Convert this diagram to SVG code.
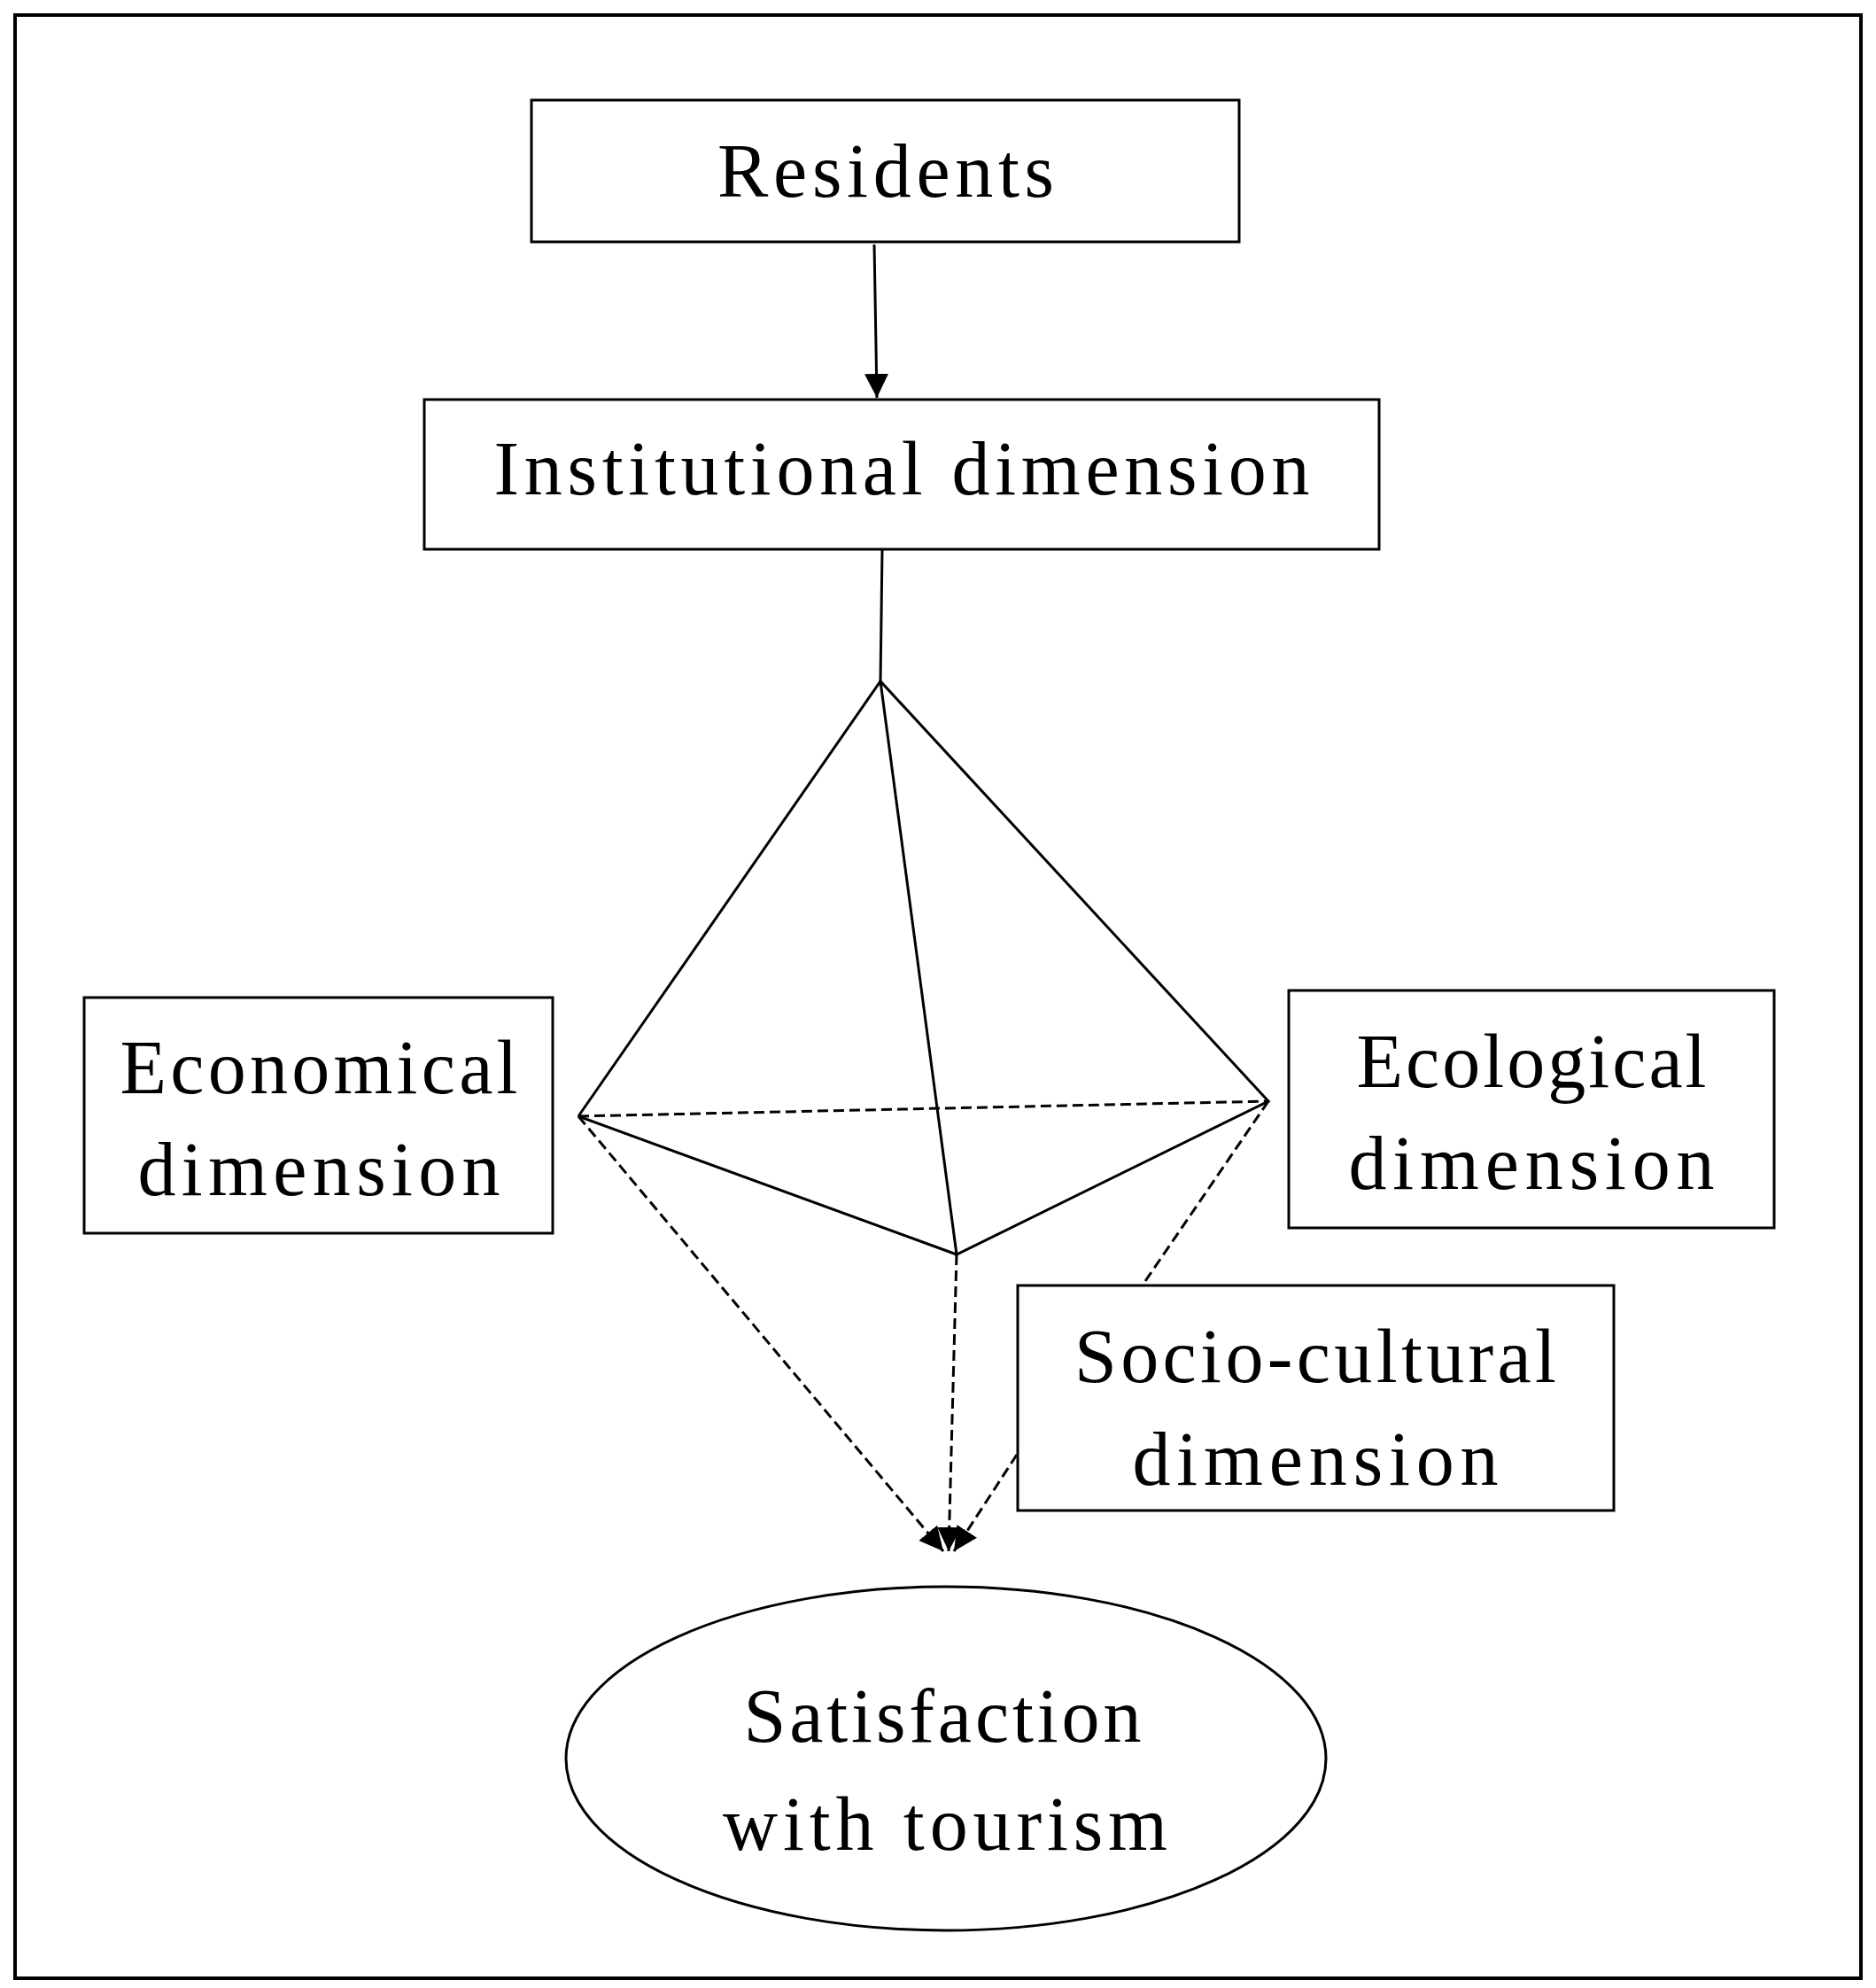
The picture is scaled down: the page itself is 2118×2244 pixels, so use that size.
<svg xmlns="http://www.w3.org/2000/svg" width="2118" height="2244" viewBox="0 0 2118 2244">
<style>
.b{fill:#fff;stroke:#000;stroke-width:3}
.t{font-family:"Liberation Serif","DejaVu Serif",serif;font-size:86px;text-anchor:middle;fill:#000}
.s{stroke:#000;stroke-width:3;fill:none}
.d{stroke:#000;stroke-width:3;fill:none;stroke-dasharray:12,6}
</style>
<defs><marker id="a" viewBox="0 0 10 10" refX="10" refY="5" markerWidth="7" markerHeight="7" markerUnits="userSpaceOnUse" orient="auto"><path d="M0,0L10,5L0,10z" fill="#000"/></marker>
<marker id="a2" viewBox="0 0 10 10" refX="10" refY="5" markerWidth="9" markerHeight="9" orient="auto"><path d="M0,0L10,5L0,10z" fill="#000"/></marker></defs>
<rect x="17" y="17" width="2084" height="2216" fill="#fff" stroke="#000" stroke-width="4"/>
<g id="connectors">
<line class="s" x1="987" y1="276" x2="990" y2="449" marker-end="url(#a2)"/>
<line class="s" x1="996" y1="621" x2="994" y2="769"/>
<polyline class="s" points="653,1260 994,769 1432,1243 1080,1416 653,1260"/>
<line class="s" x1="994" y1="769" x2="1080" y2="1416"/>
<line class="d" x1="653" y1="1260" x2="1432" y2="1243"/>
<line class="d" x1="653" y1="1260" x2="1065" y2="1751" marker-end="url(#a2)"/>
<line class="d" x1="1080" y1="1416" x2="1071" y2="1751" marker-end="url(#a2)"/>
<line class="d" x1="1432" y1="1243" x2="1291" y2="1449"/>
<line class="d" x1="1148" y1="1642" x2="1077" y2="1751" marker-end="url(#a2)"/>
</g>
<g id="residents"><rect class="b" x="600" y="113" width="799" height="160"/><text class="t" x="1000" y="222" textLength="380">Residents</text></g>
<g id="institutional"><rect class="b" x="479" y="451" width="1078" height="169"/><text class="t" x="1018" y="558" textLength="921">Institutional dimension</text></g>
<g id="economical"><rect class="b" x="95" y="1126" width="529" height="266"/><text class="t" x="360" y="1234" textLength="449">Economical</text><text class="t" x="360" y="1349" textLength="409">dimension</text></g>
<g id="ecological"><rect class="b" x="1455" y="1118" width="548" height="268"/><text class="t" x="1729" y="1227" textLength="395">Ecological</text><text class="t" x="1729" y="1342" textLength="413">dimension</text></g>
<g id="sociocultural"><rect class="b" x="1149" y="1451" width="673" height="254"/><text class="t" x="1485" y="1560" textLength="544">Socio-cultural</text><text class="t" x="1485" y="1676" textLength="413">dimension</text></g>
<g id="satisfaction"><ellipse class="b" cx="1068" cy="1985" rx="429" ry="194"/><text class="t" x="1064" y="1966" textLength="449">Satisfaction</text><text class="t" x="1067" y="2088" textLength="502">with tourism</text></g>
</svg>
